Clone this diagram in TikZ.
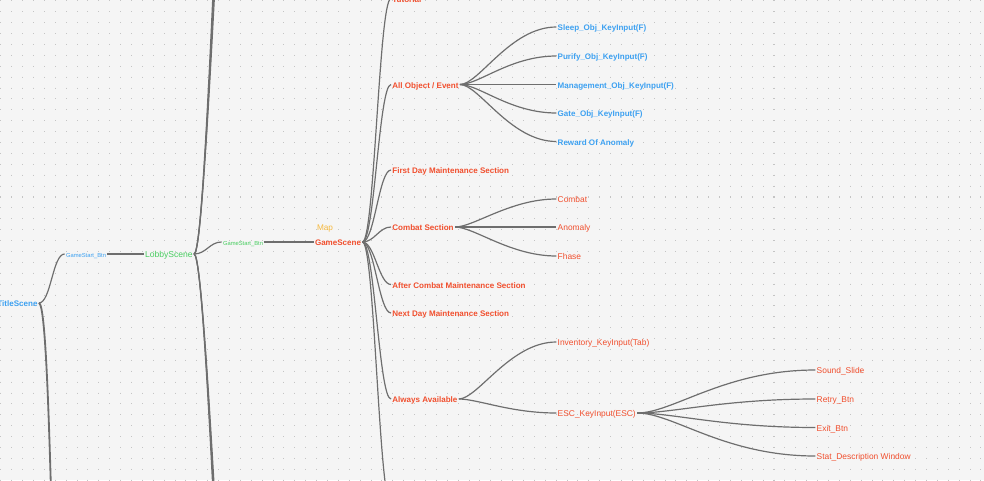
\documentclass[tikz,border=0pt]{standalone}
\usepackage{fontspec}
\setmainfont{Liberation Sans}
\usepackage{xcolor}

\definecolor{bgcol}{HTML}{F5F5F5}
\definecolor{dotcol}{HTML}{C4C4C4}
\definecolor{linecol}{HTML}{6E6E6E}
\definecolor{scred}{HTML}{F14F2E}
\definecolor{scblue}{HTML}{3DA1F1}
\definecolor{scgreen}{HTML}{48CD60}
\definecolor{scyellow}{HTML}{F6B93E}

\tikzset{
  lbl/.style={inner sep=1pt, outer sep=0pt, anchor=mid west},
  secnode/.style={lbl, text=scred, font=\fontsize{5.72}{7}\selectfont\bfseries},
  itemnode/.style={lbl, text=scred, font=\fontsize{5.98}{7}\selectfont},
  keynode/.style={lbl, text=scblue, font=\fontsize{5.72}{7}\selectfont\bfseries},
  btnnode/.style={lbl, font=\fontsize{4.13}{5}\selectfont},
  link/.style={draw=linecol, line width=0.85pt},
  trunkline/.style={draw=linecol, line width=1.3pt},
  branch/.style 2 args={to path={.. controls +(#1,0) and +(-#2,0) .. (\tikztotarget)}}
}

\begin{document}
\begin{tikzpicture}[x=0.025cm, y=-0.025cm]
  %% Canvas with dot grid
  \useasboundingbox (0,0) rectangle (984,480);
  \fill[bgcol] (0,0) rectangle (984,480);
  \clip (0,0) rectangle (984,480);
  \foreach \i in {0,...,90}
    \draw[dotcol, line width=0.72pt, dash pattern=on 0.75pt off 6.996pt] (0.8+\i*10.89,0.4) -- (0.8+\i*10.89,481);
  %% Scenes
  \node[lbl, anchor=mid east, text=scblue, font=\fontsize{5.72}{7}\selectfont\bfseries] (title) at (38.9,303) {TitleScene};
  \node[btnnode, text=scblue] (tbtn) at (64.6,254) {GameStart\_Btn};
  \node[lbl, text=scgreen, font=\fontsize{6.1}{7}\selectfont] (lobby) at (143.6,254) {LobbyScene};
  \node[btnnode, text=scgreen] (lbtn) at (221.6,242) {GameStart\_Btn};
  \node[secnode] (gscene) at (313.6,242) {GameScene};
  \node[lbl, text=scyellow, font=\fontsize{5.85}{7}\selectfont] (map) at (315.6,227) {Map};
  %% Branches leaving the picture
  \coordinate (titledn) at (66.5,800);
  \coordinate (gsdown) at (391,505);
  \foreach \k in {0,1,2} {
    \coordinate (lobbyup\k) at (238+2*\k,-400);
    \coordinate (lobbydn\k) at (241+2*\k,908);
  }
  \draw[link] (title.mid east) to[branch={12}{12}] (tbtn.mid west);
  \draw[trunkline] (title.mid east) to[branch={14}{14}] (titledn);
  \draw[link] (tbtn.mid east) -- (lobby.mid west);
  \draw[link] (lobby.mid east) to[branch={12}{12}] (lbtn.mid west);
  \foreach \k in {0,1,2} {
    \draw[link] (lobby.mid east) to[branch={14}{14}] (lobbyup\k);
    \draw[link] (lobby.mid east) to[branch={14}{14}] (lobbydn\k);
  }
  \draw[link] (lbtn.mid east) -- (gscene.mid west);
  %% GameScene sections
  \node[secnode] (tutorial) at (391,-1.5) {Tutorial};
  \node[secnode] (allobj) at (391,84.5) {All Object / Event};
  \node[secnode] (firstday) at (391,170) {First Day Maintenance Section};
  \node[secnode] (combatsec) at (391,227) {Combat Section};
  \node[secnode] (aftercombat) at (391,284.5) {After Combat Maintenance Section};
  \node[secnode] (nextday) at (391,313) {Next Day Maintenance Section};
  \node[secnode] (always) at (391,399) {Always Available};
  \foreach \nm in {tutorial,allobj,firstday,combatsec,aftercombat,nextday,always}
    \draw[link] (gscene.mid east) to[branch={12}{12}] (\nm.mid west);
  \draw[link] (gscene.mid east) to[branch={12}{12}] (gsdown);
  %% All Object / Event
  \foreach \nm/\yy/\txt in {sleep/27/{Sleep\_Obj\_KeyInput(F)}, purify/56/{Purify\_Obj\_KeyInput(F)},
      mgmt/84.5/{Management\_Obj\_KeyInput(F)}, gate/113/{Gate\_Obj\_KeyInput(F)}, reward/141.5/{Reward Of Anomaly}} {
    \node[keynode] (\nm) at (556.3,\yy) {\txt};
    \draw[link] (allobj.mid east) to[branch={19}{46}] (\nm.mid west);
  }
  %% Combat Section
  \foreach \nm/\yy/\txt in {combat/199/Combat, anomaly/227/Anomaly, fhase/256/Fhase} {
    \node[itemnode] (\nm) at (556.3,\yy) {\txt};
    \draw[link] (combatsec.mid east) to[branch={19}{46}] (\nm.mid west);
  }
  %% Always Available
  \foreach \nm/\yy/\txt in {inven/342/{Inventory\_KeyInput(Tab)}, esc/413/{ESC\_KeyInput(ESC)}} {
    \node[itemnode] (\nm) at (556.3,\yy) {\txt};
    \draw[link] (always.mid east) to[branch={19}{46}] (\nm.mid west);
  }
  \foreach \nm/\yy/\txt in {sound/370/{Sound\_Slide}, retry/399/{Retry\_Btn}, exitbtn/427.5/{Exit\_Btn},
      statwin/456/{Stat\_Description Window}} {
    \node[itemnode] (\nm) at (815.3,\yy) {\txt};
    \draw[link] (esc.mid east) to[branch={36}{91}] (\nm.mid west);
  }
\end{tikzpicture}
\end{document}
